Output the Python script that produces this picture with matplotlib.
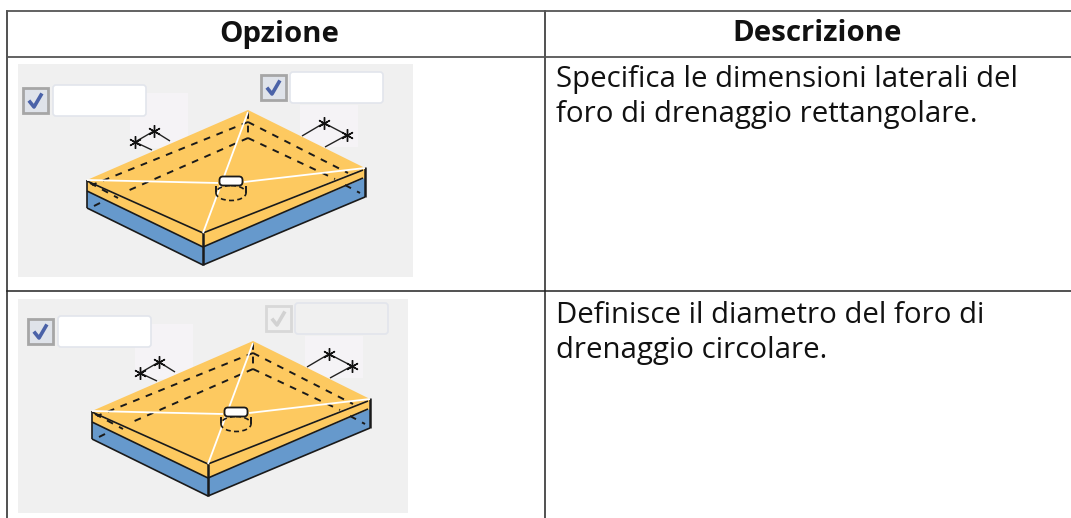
import matplotlib
matplotlib.use("Agg")
import matplotlib.pyplot as plt
from matplotlib.patches import Rectangle, Ellipse, Polygon, FancyBboxPatch

# table
header_labels = ["Opzione", "Descrizione"]
descriptions = [
    "Specifica le dimensioni laterali del\nforo di drenaggio rettangolare.",
    "Definisce il diametro del foro di\ndrenaggio circolare.",
]

# plate drawing, points as pixels inside the first screenshot
top_face = [(248, 110), (365, 168), (203, 233), (87, 180)]
orange_left = [(87, 180), (203, 233), (203, 247), (87, 191)]
orange_right = [(203, 233), (365, 168), (365, 178), (203, 247)]
blue_left = [(87, 191), (203, 247), (203, 265), (87, 208)]
blue_right = [(203, 247), (365, 178), (365, 197), (203, 265)]
solid_lines = [
    [(87, 181), (203, 233), (363, 170)],
    [(87, 191), (203, 247), (363, 178)],
    [(87, 208), (203, 265), (365, 197)],
    [(87, 180), (87, 208)],
]
thick_lines = [
    [(203, 233), (203, 265)],
    [(365, 167), (365, 197)],
]
dashed_lines = [
    [(248, 122), (92, 185)],
    [(248, 138), (125, 192)],
    [(248, 122), (348, 173)],
    [(248, 138), (335, 179)],
    [(248, 112), (248, 138)],
    [(90, 183), (118, 198)],
    [(94, 206), (100, 203)],
    [(345, 185), (360, 193)],
    [(216, 186), (216, 196)],
    [(246, 186), (246, 196)],
]
white_lines = [
    [(248, 112), (203, 233)],
    [(87, 180), (218, 183)],
    [(244, 182), (365, 168)],
]
dims_left = [[(135, 142), (154, 131), (170, 141)], [(135, 142), (152, 150)]]
dims_right = [[(302, 136), (324, 123), (347, 135), (325, 147)]]
stars = [(135, 142), (154, 131), (324, 123), (347, 135)]
faint_boxes = [(130, 93, 58, 55), (300, 105, 58, 42)]
check_boxes = [(23, 88), (261, 75)]
input_boxes = [(53, 85), (290, 72)]

fig = plt.figure(figsize=(10.71, 5.18), dpi=100)
ax = fig.add_axes([0, 0, 1, 1])
ax.set_xlim(0, 1071)
ax.set_ylim(518, 0)
ax.axis("off")


def shifted(pts, dx, dy):
    return [(x + dx, y + dy) for x, y in pts]


def draw_lines(groups, dx, dy, **style):
    for pts in groups:
        xs, ys = zip(*shifted(pts, dx, dy))
        ax.plot(xs, ys, solid_capstyle="butt", **style)


def draw_panel(x0, y0, w, h, dx, dy, second_enabled):
    ax.add_patch(Rectangle((x0, y0), w, h, fc="#f0f0f0", ec="none", zorder=1))
    for bx, by, bw, bh in faint_boxes:
        ax.add_patch(Rectangle((bx + dx, by + dy), bw, bh, fc="#f5f3f6", ec="none", zorder=1.5))

    for i in range(2):
        on = i == 0 or second_enabled
        cx, cy = shifted([check_boxes[i]], dx, dy)[0]
        ax.add_patch(Rectangle((cx, cy), 25, 25, fc="#dfe3ea" if on else "#f0f0f0",
                               ec="#a6a6a6" if on else "#d8d8d8", lw=2, zorder=2))
        ax.plot([cx + 7, cx + 11, cx + 18], [cy + 14, cy + 19, cy + 7],
                color="#4a62a8" if on else "#d2d2d2", lw=2.6, zorder=3)
        ix, iy = shifted([input_boxes[i]], dx, dy)[0]
        ax.add_patch(FancyBboxPatch((ix + 2, iy + 2), 89, 27, boxstyle="round,pad=2,rounding_size=3",
                                    fc="#ffffff" if on else "#f0f0f0",
                                    ec="#e2e5ec", lw=1.2, zorder=2))

    draw_lines(dims_left + dims_right, dx, dy, color="#222222", lw=1, zorder=2)
    for sx, sy in shifted(stars, dx, dy):
        ax.plot([sx], [sy], marker=(6, 2, 0), ms=9, mec="#111111", mew=1, zorder=3)

    for face, color in [(top_face, "#fdc960"), (orange_left, "#fdc960"), (orange_right, "#fdc960"),
                        (blue_left, "#6699cc"), (blue_right, "#6699cc")]:
        ax.add_patch(Polygon(shifted(face, dx, dy), closed=True, fc=color, ec="none", zorder=4))

    draw_lines(solid_lines, dx, dy, color="#1a1a1a", lw=1.2, zorder=5)
    draw_lines(thick_lines, dx, dy, color="#1a1a1a", lw=1.8, zorder=5)
    draw_lines(dashed_lines, dx, dy, color="#1a1a1a", lw=1.4, ls=(0, (3.5, 3.5)), zorder=5)
    draw_lines(white_lines, dx, dy, color="#ffffff", lw=1.3, zorder=6)

    # drain hole
    ax.add_patch(Ellipse((231 + dx, 193 + dy), 30, 15, fc="none", ec="#1a1a1a", lw=1.2,
                         ls=(0, (3, 2)), zorder=6))
    ax.add_patch(FancyBboxPatch((222 + dx, 179 + dy), 18, 4, boxstyle="round,pad=2.5,rounding_size=3.5",
                                fc="#ffffff", ec="#1a1a1a", lw=1.3, zorder=7))


draw_panel(18, 64, 395, 213, 0, 0, True)
draw_panel(18, 299, 390, 214, 5, 231, False)

# grid lines, nothing on the right, the crop cuts the table there
ax.plot([7, 7], [11, 518], color="#222222", lw=1.1, zorder=8)
ax.plot([545, 545], [11, 518], color="#222222", lw=1.1, zorder=8)
ax.plot([7, 1071], [11, 11], color="#555555", lw=1.3, zorder=8)
ax.plot([7, 1071], [56.5, 56.5], color="#555555", lw=1.3, zorder=8)
ax.plot([7, 1071], [291, 291], color="#222222", lw=1.1, zorder=8)

font = "Open Sans"
text_c = "#111111"
ax.text(279, 34.5, header_labels[0], ha="center", va="center", family=font, weight="bold",
        fontsize=21.2, color=text_c)
ax.text(817, 33.5, header_labels[1], ha="center", va="center", family=font, weight="bold",
        fontsize=21.2, color=text_c)
ax.text(556, 97, descriptions[0], ha="left", va="center", family=font, fontsize=21.2,
        linespacing=1.25, color=text_c)
ax.text(556, 333, descriptions[1], ha="left", va="center", family=font, fontsize=21.2,
        linespacing=1.25, color=text_c)

fig.savefig("out.png", dpi=100)
